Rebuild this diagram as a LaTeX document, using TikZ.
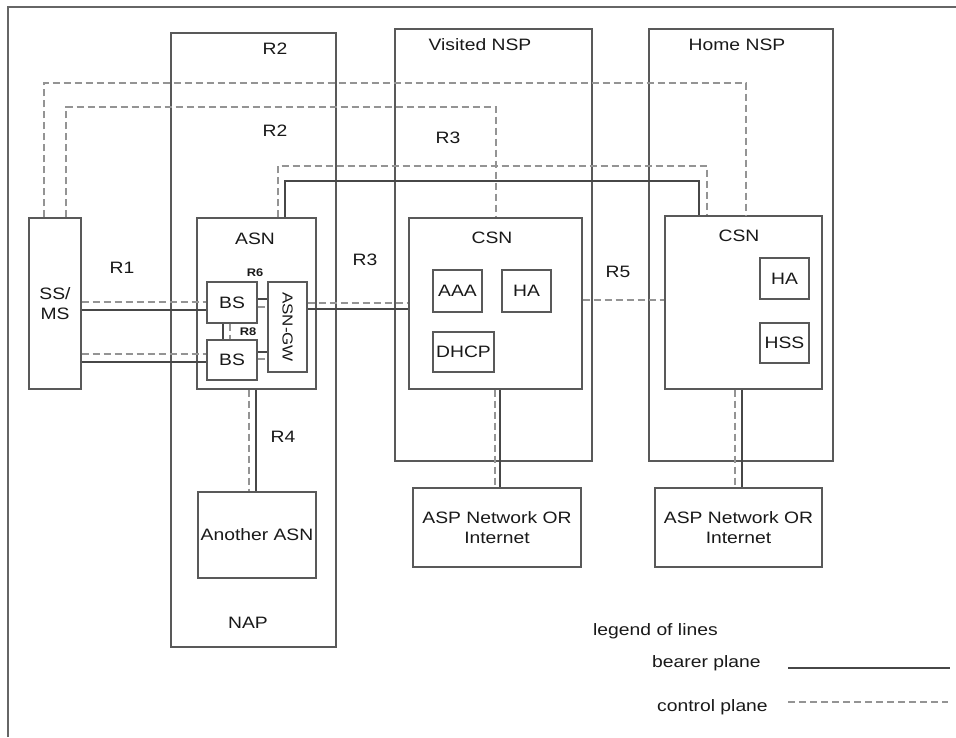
\documentclass[tikz,border=0pt]{standalone}
\usepackage{fontspec}
\setmainfont{Liberation Sans}[FakeStretch=1.17]
\usepackage{tikz}
\usetikzlibrary{positioning, calc}

\begin{document}
\begin{tikzpicture}[
    x=1pt, y=-1pt,
    box/.style={rectangle, draw=black!65, line width=1.3pt, inner sep=0pt, align=center, text=black!90, font=\fontsize{16.5}{20}\selectfont},
    lbl/.style={inner sep=0pt, text=black!90, font=\fontsize{16.5}{20}\selectfont},
    tiny/.style={lbl, font=\fontsize{11}{13}\selectfont\bfseries},
    bearer/.style={draw=black!72, line width=1.3pt},
    ctrl/.style={draw=black!42, line width=1.3pt, dash pattern=on 7pt off 4pt},
    frame/.style={draw=black!60, line width=2pt}
]
\useasboundingbox (0,0) rectangle (956,737);
\draw[frame] (8,737) -- (8,7) -- (956,7);

% domains
\node[box, minimum width=165, minimum height=614] (nap) at (253.5,340) {};
\node[box, minimum width=197, minimum height=432] (vnsp) at (493.5,245) {};
\node[box, minimum width=184, minimum height=432] (hnsp) at (741,245) {};
\node[lbl] (naplbl) at (248,623) {NAP};
\node[lbl] (vnsplbl) at (480,45) {Visited NSP};
\node[lbl] (hnsplbl) at (737,45) {Home NSP};

% boxes
\node[box, minimum width=52, minimum height=171] (ssms) at (55,303.5) {SS/\\MS};
\node[box, minimum width=119, minimum height=171] (asn) at (256.5,303.5) {};
\node[lbl] (asnlbl) at (255,239) {ASN};
\node[box, minimum width=50, minimum height=41] (bsa) at (232,302.5) {BS};
\node[box, minimum width=50, minimum height=40] (bsb) at (232,360) {BS};
\node[box, minimum width=39, minimum height=90, font=\fontsize{14.5}{17}\selectfont] (asngw) at (287.5,327) {\rotatebox{-90}{ASN-GW}};
\node[box, minimum width=118, minimum height=86] (aasn) at (257,535) {Another ASN};

\node[box, minimum width=173, minimum height=171] (vcsn) at (495.5,303.5) {};
\node[lbl] (vcsnlbl) at (492,238) {CSN};
\node[box, minimum width=49, minimum height=42] (aaa) at (457.5,291) {AAA};
\node[box, minimum width=49, minimum height=42] (vha) at (526.5,291) {HA};
\node[box, minimum width=61, minimum height=40] (dhcp) at (463.5,352) {DHCP};
\node[box, minimum width=168, minimum height=79] (vasp) at (497,527.5) {ASP Network OR\\Internet};

\node[box, minimum width=157, minimum height=173] (hcsn) at (743.5,302.5) {};
\node[lbl] (hcsnlbl) at (739,236) {CSN};
\node[box, minimum width=49, minimum height=41] (hha) at (784.5,278.5) {HA};
\node[box, minimum width=49, minimum height=40] (hss) at (784.5,343) {HSS};
\node[box, minimum width=167, minimum height=79] (hasp) at (738.5,527.5) {ASP Network OR\\Internet};

% reference points
\node[lbl] (r2a) at (275,49) {R2};
\node[lbl] (r2b) at (275,131) {R2};
\node[lbl] (r3a) at (448,138) {R3};
\node[lbl] (r1) at (122,268) {R1};
\node[lbl] (r3b) at (365,260) {R3};
\node[lbl] (r5) at (618,272) {R5};
\node[lbl] (r4) at (283,437) {R4};
\node[tiny] (r6) at (255,273) {R6};
\node[tiny] (r8) at (248,332) {R8};

% R1
\draw[ctrl] (ssms.east |- 0,302) -- (bsa.west |- 0,302);
\draw[bearer] (ssms.east |- 0,310) -- (bsa.west |- 0,310);
\draw[ctrl] (ssms.east |- 0,354) -- (bsb.west |- 0,354);
\draw[bearer] (ssms.east |- 0,362) -- (bsb.west |- 0,362);
% R6, R8
\draw[bearer] (bsa.east |- 0,299) -- (asngw.west |- 0,299);
\draw[ctrl] (bsa.east |- 0,307) -- (asngw.west |- 0,307);
\draw[bearer] (bsb.east |- 0,352) -- (asngw.west |- 0,352);
\draw[ctrl] (bsb.east |- 0,359) -- (asngw.west |- 0,359);
\draw[bearer] (223,0 |- bsa.south) -- (223,0 |- bsb.north);
\draw[ctrl] (230,0 |- bsa.south) -- (230,0 |- bsb.north);
% R3, R5
\draw[ctrl] (asngw.east |- 0,303) -- (vcsn.west |- 0,303);
\draw[bearer] (asngw.east |- 0,309) -- (vcsn.west |- 0,309);
\draw[ctrl] (vcsn.east |- 0,300) -- (hcsn.west |- 0,300);
% R4 and ASP links
\draw[ctrl] (249,0 |- asn.south) -- (249,0 |- aasn.north);
\draw[bearer] (256,0 |- asn.south) -- (256,0 |- aasn.north);
\draw[ctrl] (495,0 |- vcsn.south) -- (495,0 |- vasp.north);
\draw[bearer] (500,0 |- vcsn.south) -- (500,0 |- vasp.north);
\draw[ctrl] (735,0 |- hcsn.south) -- (735,0 |- hasp.north);
\draw[bearer] (742,0 |- hcsn.south) -- (742,0 |- hasp.north);
% R2, R3 over the top
\draw[ctrl] (44,0 |- ssms.north) -- (44,83) -| (746,0 |- hcsn.north);
\draw[ctrl] (66,0 |- ssms.north) -- (66,107) -| (496,0 |- vcsn.north);
\draw[ctrl] (278,0 |- asn.north) -- (278,166) -| (707,0 |- hcsn.north);
\draw[bearer] (285,0 |- asn.north) -- (285,181) -| (699,0 |- hcsn.north);

% legend
\node[lbl, anchor=west] (leg) at (593,631) {legend of lines};
\node[lbl, anchor=west] (legb) at (652,663) {bearer plane};
\node[lbl, anchor=west] (legc) at (657,707) {control plane};
\coordinate (lb1) at (788,668);
\coordinate (lb2) at (950,668);
\coordinate (lc1) at (788,702);
\coordinate (lc2) at (948,702);
\draw[bearer] (lb1) -- (lb2);
\draw[ctrl] (lc1) -- (lc2);
\end{tikzpicture}
\end{document}
